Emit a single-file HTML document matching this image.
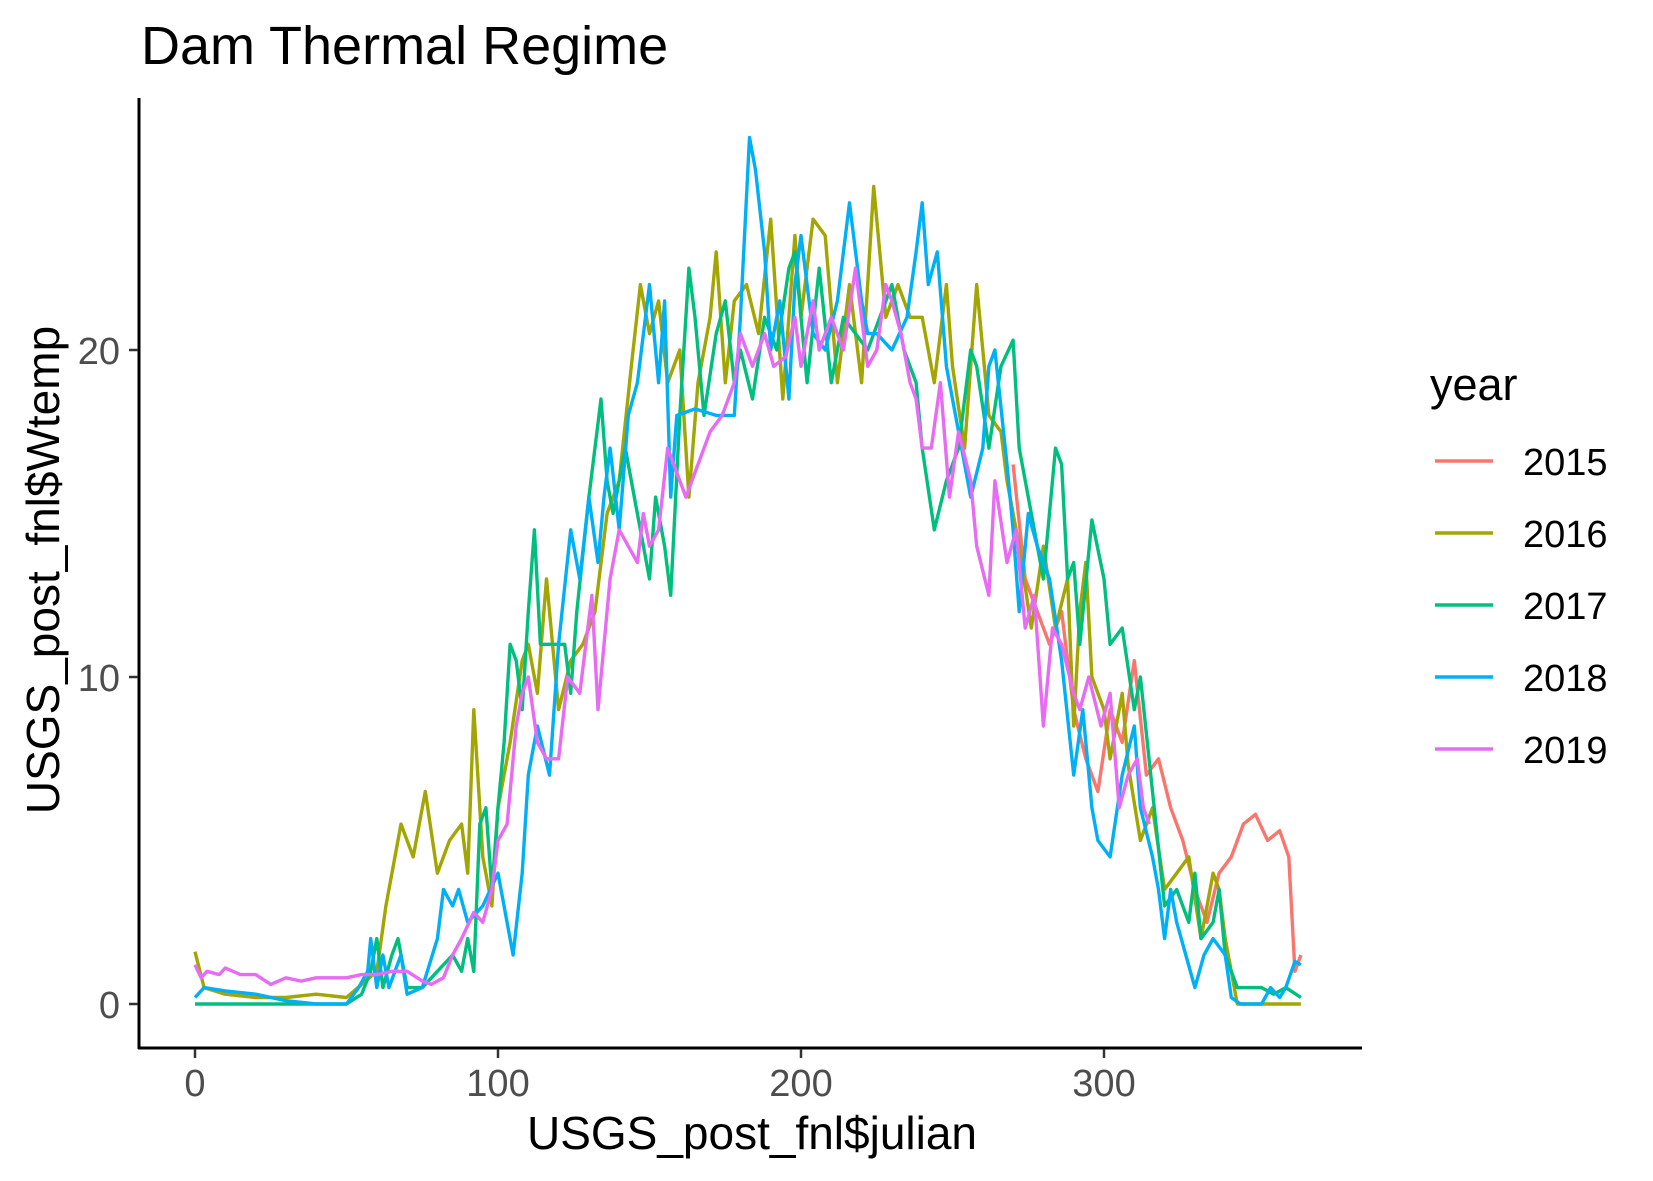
<!DOCTYPE html>
<html><head><meta charset="utf-8"><style>
html,body{margin:0;padding:0;background:#fff;}
svg{display:block;font-family:"Liberation Sans",Arial,sans-serif;}
</style></head><body>
<svg id="chart" width="1653" height="1181" viewBox="0 0 1653 1181" xmlns="http://www.w3.org/2000/svg">
<rect width="1653" height="1181" fill="#fff"/>
<text x="141" y="64" font-size="54" fill="#000">Dam Thermal Regime</text>
<g id="plot"></g>
<line x1="139" y1="98" x2="139" y2="1049" stroke="#000" stroke-width="3"/>
<line x1="138" y1="1048" x2="1362" y2="1048" stroke="#000" stroke-width="3"/>
<g id="xticks"></g><g id="yticks"></g>
<text x="752" y="1149" font-size="46" text-anchor="middle" fill="#000">USGS_post_fnl$julian</text>
<text transform="translate(59,570) rotate(-90)" font-size="46" text-anchor="middle" fill="#000">USGS_post_fnl$Wtemp</text>
<text x="1430" y="400" font-size="45" fill="#000">year</text>
<g id="legend"></g>
</svg>
<script>
const xTicks=[0,100,200,300];
const yTicks=[0,10,20];
const years=["2015","2016","2017","2018","2019"];
const colors=["#F8766D","#A3A500","#00BF7D","#00B0F6","#E76BF3"];
const days2015=[270,274,278,282,286,290,294,298,302,306,310,314,318,322,326,330,334,338,342,346,350,354,358,361,363,365];
const temp2015=[16.5,13,12,11,12,9,7.5,6.5,9,8,10.5,7,7.5,6,5,3.5,2.5,4,4.5,5.5,5.8,5,5.3,4.5,1,1.5];
const days2016=[0,3,10,20,30,40,50,60,63,68,72,76,80,84,88,90,92,95,98,100,104,108,110,113,116,120,124,128,132,136,140,144,147,150,153,156,160,163,166,170,172,175,178,182,186,190,194,198,200,204,208,212,216,220,224,228,232,236,240,244,248,250,254,258,262,266,268,272,276,280,284,288,290,292,294,296,300,302,306,308,312,316,320,324,328,332,336,338,340,342,344,365];
const temp2016=[1.6,0.5,0.3,0.2,0.2,0.3,0.2,1,3,5.5,4.5,6.5,4,5,5.5,4,9,4.5,3,6,8,10.5,11,9.5,13,9,10.5,11,12,15,16,19.5,22,20.5,21.5,19,20,15.5,19,21,23,19,21.5,22,20.5,24,18.5,23.5,21,24,23.5,19,22,19,25,21,22,21,21,19,22,19.5,17,22,18,17.5,16,14,11.5,14,11.5,13,8.5,12,13.5,10,9,7.5,9.5,7.3,5,6,3.5,4,4.5,2,4,3.5,2,1,0,0];
const days2017=[0,50,55,58,60,62,65,67,70,75,80,85,88,90,92,94,96,98,100,102,104,106,108,110,112,114,118,122,124,126,130,134,136,138,142,145,150,152,155,157,160,163,165,168,172,175,178,180,184,188,192,196,198,202,206,210,214,218,222,226,230,234,238,240,244,248,252,256,258,262,266,270,272,276,280,284,286,288,290,292,296,300,302,306,310,312,316,320,324,328,330,332,336,338,340,344,348,352,356,360,365];
const temp2017=[0,0,0.3,1,2,0.5,1.5,2,0.5,0.5,1,1.5,1,2,1,5.5,6,3.5,6,8,11,10.5,9,12,14.5,11,11,11,9.5,12,15.5,18.5,16,15,17,15.5,13,15.5,14,12.5,18,22.5,21,18,20.5,21.5,19,20,18.5,21,20,22.5,23,19,22.5,19,21,20.5,20,21,22,20,19,17,14.5,16,17,20,19.5,17,19.5,20.3,17,15,13,17,16.5,13,13.5,11,14.8,13,11,11.5,9,10,6.5,3,3.5,2.5,4,2,2.5,3.5,1.5,0.5,0.5,0.5,0.3,0.5,0.2];
const days2018=[0,3,10,20,30,40,50,54,57,58,60,62,64,68,70,75,80,82,85,87,90,95,100,105,108,110,113,117,120,124,127,130,133,135,137,140,143,146,150,153,155,157,159,165,172,178,180,183,185,188,190,193,196,198,200,204,208,212,216,220,222,225,230,235,238,240,242,245,248,252,256,260,262,264,268,270,272,275,278,282,286,290,293,296,298,302,306,310,312,316,318,320,322,324,327,330,333,336,340,342,345,352,355,358,360,363,365];
const temp2018=[0.2,0.5,0.4,0.3,0.1,0,0,0.5,1,2,0.5,1.5,0.5,1.5,0.3,0.5,2,3.5,3,3.5,2.5,3,4,1.5,4,7,8.5,7,11,14.5,13,15.5,13.5,15.5,17,14.5,18,19,22,19,21.5,15.5,18,18.2,18,18,21,26.5,25.5,23,20,21.5,18.5,22,23.5,20.5,20,21.5,24.5,21.5,20.5,20.5,20,21,23,24.5,22,23,19.5,17.5,15.5,17,19.5,20,16.5,14.5,12,15,14,13,10.5,7,9,6,5,4.5,7,8.5,6,4.5,3.5,2,3.5,2.5,1.5,0.5,1.5,2,1.5,0.2,0,0,0.5,0.2,0.5,1.3,1.2];
const days2019=[0,2,4,8,10,15,20,25,30,35,40,45,50,55,60,65,70,75,78,82,85,88,92,95,98,100,103,106,108,110,113,116,120,123,127,131,133,137,140,143,146,148,150,153,156,158,162,166,170,174,178,180,184,188,191,195,198,200,204,206,210,214,218,222,225,228,230,233,236,238,240,243,246,249,252,256,258,262,264,268,271,274,277,280,283,286,290,292,295,299,302,305,308,311,313,315];
const temp2019=[1.2,0.8,1.0,0.9,1.1,0.9,0.9,0.6,0.8,0.7,0.8,0.8,0.8,0.9,0.9,1,1,0.7,0.6,0.8,1.5,2,2.8,2.5,3.5,5,5.5,8.5,9.5,10,8,7.5,7.5,10,9.5,12.5,9,13,14.5,14,13.5,15,14,14.5,17,16.5,15.5,16.5,17.5,18,19,20.5,19.5,20.5,19.5,19.8,21,19.5,21.5,20,21,20,22.5,19.5,20,22,21.5,20.5,19,18.5,17,17,19,15.5,17.5,16,14,12.5,16,13.5,14.5,11.5,12.5,8.5,11.5,11,9.5,9,10,8.5,9.5,6,7,7.5,6,5.5];
const seriesDays=[days2015,days2016,days2017,days2018,days2019];
const seriesTemp=[temp2015,temp2016,temp2017,temp2018,temp2019];

const NS="http://www.w3.org/2000/svg";
function xs(v){return 195+3.03*v;}
function ys(v){return 1004-32.7*v;}
const plot=document.getElementById('plot');
for(let s=0;s<years.length;s++){
  const p=document.createElementNS(NS,'polyline');
  p.setAttribute('points',seriesDays[s].map((d,i)=>xs(d).toFixed(1)+','+ys(seriesTemp[s][i]).toFixed(1)).join(' '));
  p.setAttribute('fill','none');p.setAttribute('stroke',colors[s]);p.setAttribute('stroke-width','3.4');
  p.setAttribute('stroke-linejoin','round');
  
  
  plot.appendChild(p);
}
const xt=document.getElementById('xticks');
xTicks.forEach(v=>{
  const l=document.createElementNS(NS,'line');
  l.setAttribute('x1',xs(v));l.setAttribute('x2',xs(v));l.setAttribute('y1',1049);l.setAttribute('y2',1058);
  l.setAttribute('stroke','#333');l.setAttribute('stroke-width','2.5');
  
  
  xt.appendChild(l);
  const t=document.createElementNS(NS,'text');
  t.setAttribute('x',xs(v));t.setAttribute('y',1096);t.setAttribute('text-anchor','middle');
  t.setAttribute('font-size','38');t.setAttribute('fill','#4d4d4d');t.textContent=v;
  
  
  xt.appendChild(t);
});
const yt=document.getElementById('yticks');
yTicks.forEach(v=>{
  const l=document.createElementNS(NS,'line');
  l.setAttribute('x1',129);l.setAttribute('x2',138);l.setAttribute('y1',ys(v));l.setAttribute('y2',ys(v));
  l.setAttribute('stroke','#333');l.setAttribute('stroke-width','2.5');
  
  
  yt.appendChild(l);
  const t=document.createElementNS(NS,'text');
  t.setAttribute('x',120);t.setAttribute('y',ys(v)+14);t.setAttribute('text-anchor','end');
  t.setAttribute('font-size','38');t.setAttribute('fill','#4d4d4d');t.textContent=v;
  
  
  yt.appendChild(t);
});
const lg=document.getElementById('legend');
years.forEach((y,i)=>{
  const cy=461+72*i;
  const g=document.createElementNS(NS,'g');
  
  
  const l=document.createElementNS(NS,'line');
  l.setAttribute('x1',1435);l.setAttribute('x2',1493);l.setAttribute('y1',cy);l.setAttribute('y2',cy);
  l.setAttribute('stroke',colors[i]);l.setAttribute('stroke-width','3.4');
  g.appendChild(l);
  const t=document.createElementNS(NS,'text');
  t.setAttribute('x',1523);t.setAttribute('y',cy+14);t.setAttribute('font-size','38');t.setAttribute('fill','#000');
  t.textContent=y;
  g.appendChild(t);
  lg.appendChild(g);
});
</script>
</body></html>
